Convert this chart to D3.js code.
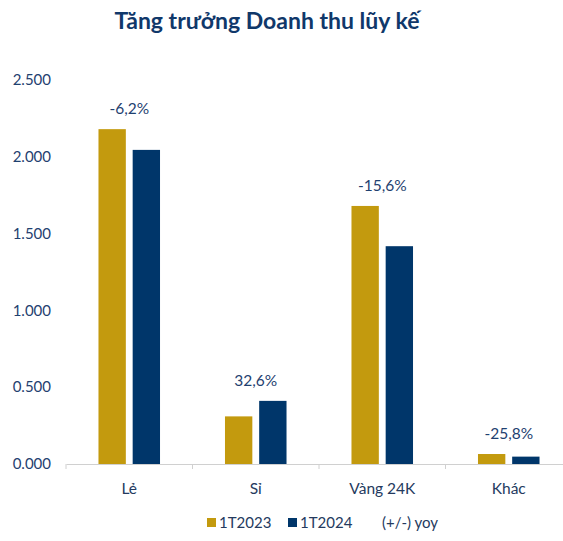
<!DOCTYPE html>
<html><head><meta charset="utf-8">
<script src="https://cdn.jsdelivr.net/npm/d3@7"></script>
<style>body{margin:0;background:#fff}svg{display:block}text{font-family:Lato,"Open Sans",sans-serif}</style>
</head><body><svg id="c" width="563" height="541"></svg>
<script>
const categories = ["Lẻ", "Sỉ", "Vàng 24K", "Khác"];
const series = ["1T2023", "1T2024"];
const values2023 = [2.18, 0.31, 1.68, 0.065];
const values2024 = [2.045, 0.411, 1.418, 0.048];
const yoyLabels = ["-6,2%", "32,6%", "-15,6%", "-25,8%"];
const yTicks = [0, 0.5, 1, 1.5, 2, 2.5];
const colors = ["#c39a0e", "#00366a"];

const svg = d3.select("#c");
const x = d3.scaleBand().domain(categories).range([66, 572]);
const xs = d3.scaleBand().domain(series).range([0, x.bandwidth()]).paddingInner(0.2).paddingOuter(0.95);
const y = d3.scaleLinear().domain([0, 2.5]).range([464, 80]);
const fmt = v => d3.format(".3f")(v);

svg.append("text").attr("x", 267).attr("y", 29).attr("text-anchor", "middle")
  .attr("font-size", 23).attr("font-weight", "bold").attr("fill", "#10386a")
  .text("Tăng trưởng Doanh thu lũy kế");

// y labels
svg.append("g").selectAll("text").data(yTicks).join("text")
  .attr("x", 51).attr("y", d => y(d)).attr("dy", "0.35em").attr("text-anchor", "end")
  .attr("font-size", 15).attr("fill", "#1f4170").text(d => fmt(d));

// x axis
const xa = d3.axisBottom(x).tickSize(0).tickFormat("");
const gx = svg.append("g").attr("transform", "translate(0,464)").call(xa);
gx.select(".domain").attr("stroke", "#d0d0d0");
gx.selectAll(".sep").data(categories.slice(1)).join("line").attr("class","sep")
  .attr("x1", d => x(d)).attr("x2", d => x(d)).attr("y1", 0).attr("y2", 5).attr("stroke", "#d0d0d0");
svg.append("line").attr("x1", 66).attr("x2", 66).attr("y1", 464).attr("y2", 469).attr("stroke", "#d0d0d0");

const data = categories.map((c, i) => ({c, vals: [values2023[i], values2024[i]], lab: yoyLabels[i]}));
const g = svg.append("g").selectAll("g").data(data).join("g").attr("transform", d => `translate(${x(d.c)},0)`);
g.selectAll("rect").data(d => d.vals.map((v, j) => ({s: series[j], v, j}))).join("rect")
  .attr("x", d => xs(d.s)).attr("width", xs.bandwidth())
  .attr("y", d => y(d.v)).attr("height", d => y(0) - y(d.v))
  .attr("fill", d => colors[d.j]);
g.append("text").attr("x", x.bandwidth() / 2).attr("y", d => y(d3.max(d.vals)) - 15)
  .attr("text-anchor", "middle").attr("font-size", 15.5).attr("fill", "#1f4170").text(d => d.lab);

svg.append("g").selectAll("text").data(categories).join("text")
  .attr("x", d => x(d) + x.bandwidth() / 2).attr("y", 494).attr("text-anchor", "middle")
  .attr("font-size", 15.5).attr("fill", "#243a5e").text(d => d);

// legend
const leg = svg.append("g");
const items = [{t: series[0], c: colors[0], x: 207}, {t: series[1], c: colors[1], x: 288}];
items.forEach(it => {
  leg.append("rect").attr("x", it.x).attr("y", 518).attr("width", 9).attr("height", 9).attr("fill", it.c);
  leg.append("text").attr("x", it.x + 12).attr("y", 528).attr("font-size", 15).attr("fill", "#243a5e").text(it.t);
});
leg.append("text").attr("x", 382).attr("y", 528).attr("font-size", 15).attr("fill", "#243a5e").text("(+/-) yoy");
</script></body></html>
